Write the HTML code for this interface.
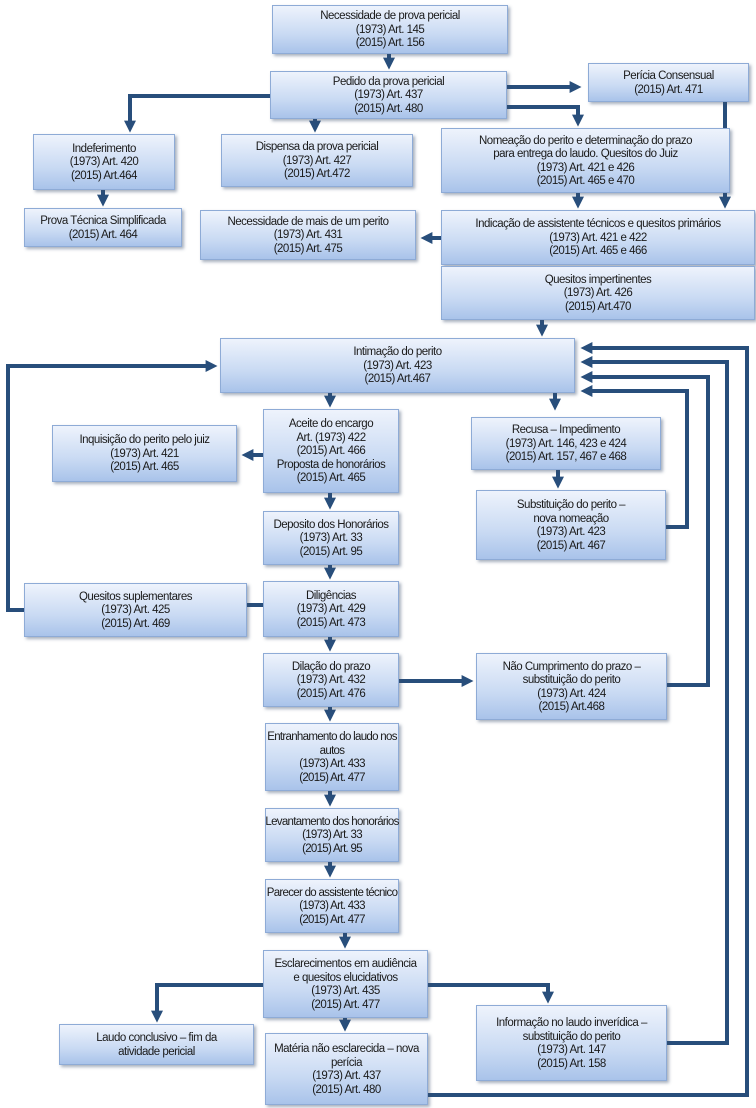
<!DOCTYPE html>
<html><head><meta charset="utf-8"><style>
body{margin:0;width:756px;height:1108px;background:#fff;position:relative;overflow:hidden;font-family:"Liberation Sans",Arial,sans-serif;}
.b{position:absolute;box-sizing:border-box;border:1px solid #8eabd6;background:linear-gradient(#eef3fc,#c9daf3 60%,#a9c3ea);box-shadow:2px 2px 3px rgba(60,80,110,.45);display:flex;align-items:center;justify-content:center;text-align:center;font-size:11.5px;line-height:13.5px;color:#1a1a1a;letter-spacing:-0.5px;white-space:nowrap;padding-top:2px;}
svg{position:absolute;left:0;top:0;}
</style></head><body>
<svg width="756" height="1108">
<defs><marker id="a" markerWidth="3" markerHeight="3" refX="1.6" refY="1.5" orient="auto" markerUnits="strokeWidth"><path d="M0,0 L3,1.5 L0,3z" fill="#284e7b"/></marker></defs>
<g stroke="#284e7b" stroke-width="4" fill="none">
<path d="M389 54V64" marker-end="url(#a)"/>
<path d="M270 96H130V127" marker-end="url(#a)"/>
<path d="M315 119V127" marker-end="url(#a)"/>
<path d="M507 87H576" marker-end="url(#a)"/>
<path d="M507 107H578V121" marker-end="url(#a)"/>
<path d="M725 102V203" marker-end="url(#a)"/>
<path d="M578 193V203" marker-end="url(#a)"/>
<path d="M441 238H426" marker-end="url(#a)"/>
<path d="M103 190V201" marker-end="url(#a)"/>
<path d="M542 320V331" marker-end="url(#a)"/>
<path d="M330 393V402" marker-end="url(#a)"/>
<path d="M555 393V405" marker-end="url(#a)"/>
<path d="M558 470V483" marker-end="url(#a)"/>
<path d="M666 527H687V391H586" marker-end="url(#a)"/>
<path d="M667 685H708V377H586" marker-end="url(#a)"/>
<path d="M667 1043H727V362H586" marker-end="url(#a)"/>
<path d="M428 1095H747V348H586" marker-end="url(#a)"/>
<path d="M263 455H247" marker-end="url(#a)"/>
<path d="M330 493V504" marker-end="url(#a)"/>
<path d="M330 565V574" marker-end="url(#a)"/>
<path d="M263 605H247"/>
<path d="M24 610H8V366H212" marker-end="url(#a)"/>
<path d="M330 637V646" marker-end="url(#a)"/>
<path d="M399 681H468" marker-end="url(#a)"/>
<path d="M330 707V716" marker-end="url(#a)"/>
<path d="M330 791V801" marker-end="url(#a)"/>
<path d="M330 862V872" marker-end="url(#a)"/>
<path d="M345 933V943" marker-end="url(#a)"/>
<path d="M263 985H157V1017" marker-end="url(#a)"/>
<path d="M428 985H548V998" marker-end="url(#a)"/>
<path d="M345 1018V1026" marker-end="url(#a)"/>
</g></svg>
<div class="b" style="left:272px;top:5px;width:236px;height:49px">Necessidade de prova pericial<br>(1973) Art. 145<br>(2015) Art. 156</div>
<div class="b" style="left:270px;top:71px;width:237px;height:48px">Pedido da prova pericial<br>(1973) Art. 437<br>(2015) Art. 480</div>
<div class="b" style="left:588px;top:63px;width:161px;height:39px">Perícia Consensual<br>(2015) Art. 471</div>
<div class="b" style="left:33px;top:134px;width:142px;height:56px">Indeferimento<br>(1973) Art. 420<br>(2015) Art.464</div>
<div class="b" style="left:24px;top:208px;width:158px;height:39px">Prova Técnica Simplificada<br>(2015) Art. 464</div>
<div class="b" style="left:221px;top:134px;width:192px;height:53px">Dispensa da prova pericial<br>(1973) Art. 427<br>(2015) Art.472</div>
<div class="b" style="left:441px;top:128px;width:289px;height:65px">Nomeação do perito e determinação do prazo<br>para entrega do laudo. Quesitos do Juiz<br>(1973) Art. 421 e 426<br>(2015) Art. 465 e 470</div>
<div class="b" style="left:200px;top:210px;width:216px;height:50px">Necessidade de mais de um perito<br>(1973) Art. 431<br>(2015) Art. 475</div>
<div class="b" style="left:441px;top:210px;width:314px;height:55px">Indicação de assistente técnicos e quesitos primários<br>(1973) Art. 421 e 422<br>(2015) Art. 465 e 466</div>
<div class="b" style="left:441px;top:266px;width:314px;height:54px">Quesitos impertinentes<br>(1973) Art. 426<br>(2015) Art.470</div>
<div class="b" style="left:220px;top:338px;width:355px;height:55px">Intimação do perito<br>(1973) Art. 423<br>(2015) Art.467</div>
<div class="b" style="left:263px;top:409px;width:136px;height:84px">Aceite do encargo<br>Art. (1973) 422<br>(2015) Art. 466<br>Proposta de honorários<br>(2015) Art. 465</div>
<div class="b" style="left:52px;top:425px;width:185px;height:57px">Inquisição do perito pelo juiz<br>(1973) Art. 421<br>(2015) Art. 465</div>
<div class="b" style="left:471px;top:417px;width:190px;height:53px">Recusa – Impedimento<br>(1973) Art. 146, 423 e 424<br>(2015) Art. 157, 467 e 468</div>
<div class="b" style="left:476px;top:490px;width:190px;height:70px">Substituição do perito –<br>nova nomeação<br>(1973) Art. 423<br>(2015) Art. 467</div>
<div class="b" style="left:263px;top:511px;width:136px;height:54px">Deposito dos Honorários<br>(1973) Art. 33<br>(2015) Art. 95</div>
<div class="b" style="left:263px;top:581px;width:136px;height:56px">Diligências<br>(1973) Art. 429<br>(2015) Art. 473</div>
<div class="b" style="left:24px;top:583px;width:223px;height:54px">Quesitos suplementares<br>(1973) Art. 425<br>(2015) Art. 469</div>
<div class="b" style="left:263px;top:653px;width:136px;height:54px">Dilação do prazo<br>(1973) Art. 432<br>(2015) Art. 476</div>
<div class="b" style="left:476px;top:653px;width:191px;height:67px">Não Cumprimento do prazo –<br>substituição do perito<br>(1973) Art. 424<br>(2015) Art.468</div>
<div class="b" style="left:265px;top:723px;width:134px;height:68px;letter-spacing:-0.7px">Entranhamento do laudo nos<br>autos<br>(1973) Art. 433<br>(2015) Art. 477</div>
<div class="b" style="left:265px;top:808px;width:134px;height:54px;letter-spacing:-0.7px">Levantamento dos honorários<br>(1973) Art. 33<br>(2015) Art. 95</div>
<div class="b" style="left:265px;top:879px;width:134px;height:54px;letter-spacing:-0.7px">Parecer do assistente técnico<br>(1973) Art. 433<br>(2015) Art. 477</div>
<div class="b" style="left:263px;top:950px;width:165px;height:68px">Esclarecimentos em audiência<br>e quesitos elucidativos<br>(1973) Art. 435<br>(2015) Art. 477</div>
<div class="b" style="left:59px;top:1024px;width:195px;height:41px">Laudo conclusivo – fim da<br>atividade pericial</div>
<div class="b" style="left:265px;top:1033px;width:163px;height:72px">Matéria não esclarecida – nova<br>perícia<br>(1973) Art. 437<br>(2015) Art. 480</div>
<div class="b" style="left:476px;top:1005px;width:191px;height:76px">Informação no laudo inverídica –<br>substituição do perito<br>(1973) Art. 147<br>(2015) Art. 158</div>
</body></html>
